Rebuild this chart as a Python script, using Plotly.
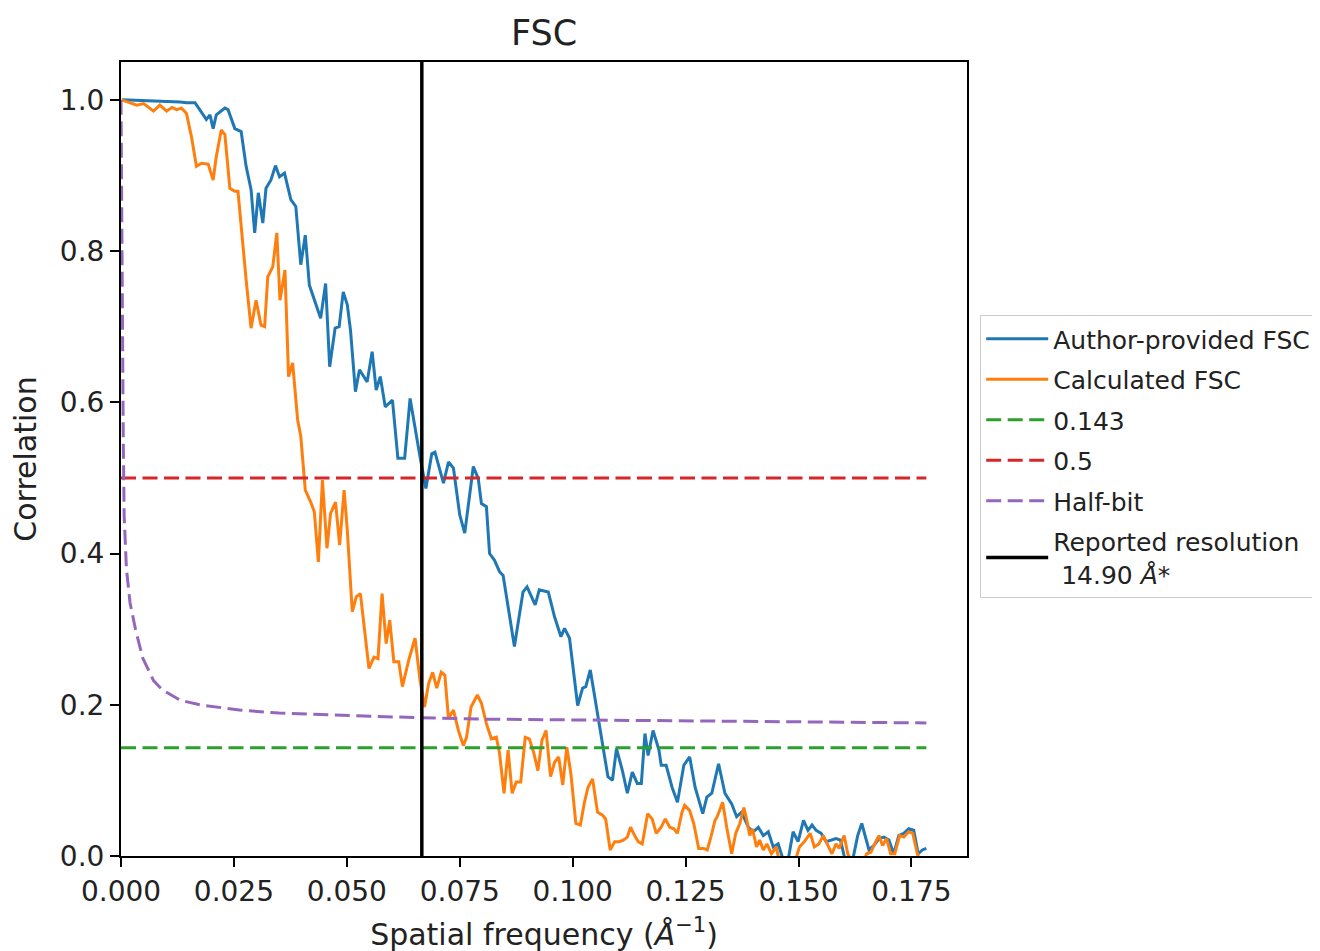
import plotly.graph_objects as go

# ---- data ----
author_x = [0.0002, 0.0050, 0.0101, 0.0131, 0.0145, 0.0164, 0.0189, 0.0197, 0.0204, 0.0211,
            0.0230, 0.0237, 0.0252, 0.0266, 0.0277, 0.0288, 0.0296, 0.0304, 0.0314, 0.0321,
            0.0332, 0.0342, 0.0351, 0.0362, 0.0376, 0.0387, 0.0398, 0.0408, 0.0417, 0.0428,
            0.0442, 0.0453, 0.0462, 0.0474, 0.0483, 0.0492, 0.0501, 0.0508, 0.0519, 0.0528,
            0.0545, 0.0556, 0.0565, 0.0574, 0.0585, 0.0601, 0.0613, 0.0628, 0.0640, 0.0662,
            0.0675, 0.0688, 0.0695, 0.0714, 0.0725, 0.0736, 0.0750, 0.0761, 0.0780, 0.0791,
            0.0798, 0.0809, 0.0816, 0.0827, 0.0838, 0.0846, 0.0857, 0.0871, 0.0890, 0.0899,
            0.0917, 0.0926, 0.0946, 0.0960, 0.0974, 0.0982, 0.0993, 0.1000, 0.1011, 0.1022,
            0.1029, 0.1039, 0.1049, 0.1059, 0.1068, 0.1078, 0.1088, 0.1097, 0.1110, 0.1121,
            0.1132, 0.1143, 0.1152, 0.1160, 0.1167, 0.1178, 0.1191, 0.1196, 0.1207, 0.1220,
            0.1232, 0.1246, 0.1259, 0.1271, 0.1288, 0.1297, 0.1308, 0.1323, 0.1337, 0.1352,
            0.1363, 0.1374, 0.1389, 0.1400, 0.1411, 0.1422, 0.1433, 0.1444, 0.1455, 0.1466,
            0.1477, 0.1488, 0.1499, 0.1511, 0.1521, 0.1530, 0.1539, 0.1550, 0.1561, 0.1572,
            0.1583, 0.1593, 0.1603, 0.1620, 0.1631, 0.1640, 0.1649, 0.1656, 0.1667, 0.1678,
            0.1689, 0.1700, 0.1711, 0.1722, 0.1733, 0.1744, 0.1755, 0.1765, 0.1774, 0.1783]
author_y = [1.000, 0.999, 0.998, 0.997, 0.996, 0.996, 0.974, 0.980, 0.962, 0.980,
            0.989, 0.987, 0.962, 0.958, 0.912, 0.881, 0.824, 0.877, 0.837, 0.883,
            0.894, 0.913, 0.898, 0.903, 0.868, 0.859, 0.782, 0.821, 0.755, 0.735,
            0.711, 0.757, 0.647, 0.698, 0.700, 0.746, 0.729, 0.696, 0.614, 0.643,
            0.627, 0.667, 0.616, 0.634, 0.594, 0.603, 0.526, 0.526, 0.605, 0.528,
            0.486, 0.532, 0.534, 0.493, 0.521, 0.513, 0.451, 0.427, 0.515, 0.499,
            0.466, 0.462, 0.400, 0.391, 0.376, 0.371, 0.329, 0.277, 0.349, 0.356,
            0.332, 0.352, 0.349, 0.316, 0.290, 0.301, 0.288, 0.250, 0.199, 0.222,
            0.224, 0.246, 0.210, 0.171, 0.136, 0.105, 0.100, 0.142, 0.113, 0.083,
            0.111, 0.096, 0.096, 0.162, 0.133, 0.166, 0.140, 0.120, 0.120, 0.091,
            0.071, 0.120, 0.131, 0.091, 0.056, 0.078, 0.083, 0.122, 0.083, 0.069,
            0.052, 0.058, 0.038, 0.032, 0.038, 0.027, 0.032, 0.012, 0.016, -0.005,
            -0.005, 0.032, 0.019, 0.047, 0.034, 0.041, 0.034, 0.030, 0.019, 0.021,
            0.023, 0.021, -0.005, -0.005, 0.027, 0.043, 0.023, 0.008, 0.014, 0.023,
            0.025, 0.021, 0.003, 0.027, 0.030, 0.036, 0.034, 0.003, 0.008, 0.010]

calc_x = [0.0002, 0.0035, 0.0050, 0.0072, 0.0086, 0.0101, 0.0113, 0.0123, 0.0134, 0.0145,
          0.0156, 0.0167, 0.0178, 0.0193, 0.0204, 0.0211, 0.0222, 0.0230, 0.0241, 0.0252,
          0.0259, 0.0270, 0.0277, 0.0288, 0.0299, 0.0310, 0.0318, 0.0325, 0.0336, 0.0345,
          0.0352, 0.0363, 0.0371, 0.0380, 0.0391, 0.0398, 0.0408, 0.0420, 0.0428, 0.0437,
          0.0446, 0.0456, 0.0464, 0.0475, 0.0484, 0.0494, 0.0501, 0.0512, 0.0521, 0.0530,
          0.0540, 0.0549, 0.0560, 0.0569, 0.0578, 0.0587, 0.0595, 0.0604, 0.0615, 0.0623,
          0.0637, 0.0651, 0.0662, 0.0672, 0.0681, 0.0690, 0.0699, 0.0709, 0.0717, 0.0725,
          0.0736, 0.0747, 0.0758, 0.0765, 0.0775, 0.0789, 0.0798, 0.0809, 0.0820, 0.0831,
          0.0838, 0.0848, 0.0857, 0.0866, 0.0875, 0.0885, 0.0895, 0.0904, 0.0914, 0.0923,
          0.0932, 0.0941, 0.0951, 0.0960, 0.0969, 0.0978, 0.0987, 0.0996, 0.1007, 0.1017,
          0.1026, 0.1034, 0.1044, 0.1055, 0.1066, 0.1073, 0.1083, 0.1093, 0.1103, 0.1112,
          0.1121, 0.1128, 0.1139, 0.1145, 0.1154, 0.1166, 0.1176, 0.1185, 0.1196, 0.1205,
          0.1215, 0.1224, 0.1232, 0.1242, 0.1248, 0.1259, 0.1268, 0.1279, 0.1290, 0.1298,
          0.1306, 0.1315, 0.1320, 0.1332, 0.1341, 0.1352, 0.1361, 0.1370, 0.1379, 0.1385,
          0.1392, 0.1398, 0.1407, 0.1414, 0.1422, 0.1430, 0.1440, 0.1451, 0.1458, 0.1470,
          0.1480, 0.1491, 0.1502, 0.1513, 0.1526, 0.1535, 0.1545, 0.1555, 0.1565, 0.1574,
          0.1583, 0.1590, 0.1601, 0.1609, 0.1620, 0.1631, 0.1642, 0.1651, 0.1660, 0.1671,
          0.1678, 0.1686, 0.1695, 0.1704, 0.1713, 0.1724, 0.1733, 0.1744, 0.1753, 0.1763,
          0.1768]
calc_y = [1.000, 0.993, 0.995, 0.985, 0.993, 0.985, 0.990, 0.987, 0.989, 0.982,
          0.951, 0.912, 0.916, 0.915, 0.894, 0.925, 0.960, 0.954, 0.883, 0.879,
          0.879, 0.806, 0.762, 0.698, 0.735, 0.702, 0.700, 0.766, 0.779, 0.824,
          0.735, 0.775, 0.634, 0.652, 0.577, 0.555, 0.484, 0.468, 0.455, 0.389,
          0.497, 0.407, 0.453, 0.468, 0.411, 0.484, 0.431, 0.323, 0.343, 0.347,
          0.294, 0.248, 0.263, 0.261, 0.347, 0.281, 0.312, 0.257, 0.257, 0.224,
          0.259, 0.288, 0.233, 0.197, 0.228, 0.243, 0.222, 0.243, 0.239, 0.182,
          0.193, 0.166, 0.146, 0.157, 0.197, 0.213, 0.202, 0.175, 0.155, 0.157,
          0.136, 0.083, 0.140, 0.083, 0.098, 0.098, 0.157, 0.155, 0.136, 0.113,
          0.153, 0.166, 0.105, 0.124, 0.131, 0.094, 0.144, 0.109, 0.043, 0.041,
          0.071, 0.091, 0.102, 0.058, 0.054, 0.049, 0.008, 0.019, 0.019, 0.021,
          0.025, 0.038, 0.025, 0.019, 0.016, 0.056, 0.049, 0.030, 0.038, 0.049,
          0.038, 0.036, 0.030, 0.058, 0.067, 0.060, 0.043, 0.010, 0.010, 0.008,
          0.025, 0.047, 0.052, 0.071, 0.038, 0.003, 0.030, 0.043, 0.064, 0.049,
          0.027, 0.036, 0.012, 0.021, 0.008, 0.016, 0.003, 0.012, -0.010, -0.010,
          -0.010, -0.010, 0.012, 0.019, 0.030, 0.012, 0.016, 0.027, 0.014, 0.003,
          0.016, 0.010, 0.027, 0.003, -0.010, -0.010, -0.010, 0.003, 0.005, 0.019,
          0.027, 0.014, 0.023, 0.003, 0.003, 0.027, 0.025, 0.032, 0.030, 0.003,
          -0.005]

halfbit_x = [0.0000, 0.0002, 0.0005, 0.0007, 0.0012, 0.0020, 0.0032, 0.0048, 0.0072, 0.0091,
             0.0131, 0.0174, 0.0262, 0.0350, 0.0500, 0.0650, 0.0800, 0.1000, 0.1200, 0.1400,
             0.1600, 0.1783]
halfbit_y = [1.000, 0.750, 0.550, 0.450, 0.380, 0.335, 0.300, 0.262, 0.232, 0.220,
             0.206, 0.200, 0.193, 0.189, 0.186, 0.183, 0.181, 0.180, 0.178, 0.177,
             0.1765, 0.176]

line_x = [0.0, 0.1783]
thr_0143 = [0.143, 0.143]
thr_05 = [0.5, 0.5]
res_x = [0.0666, 0.0666]
res_y = [0.0, 1.05]

x_ticks = [0.0, 0.025, 0.05, 0.075, 0.1, 0.125, 0.15, 0.175]
y_ticks = [0.0, 0.2, 0.4, 0.6, 0.8, 1.0]

FONT = "DejaVu Sans"
DASH = "15px,6.5px"
TXT = "#222222"

fig = go.Figure()
fig.add_trace(go.Scatter(x=author_x, y=author_y, mode="lines", name="Author-provided FSC",
                         line=dict(color="#1f77b4", width=3), legendgroup="a"))
fig.add_trace(go.Scatter(x=calc_x, y=calc_y, mode="lines", name="Calculated FSC",
                         line=dict(color="#ff7f0e", width=3), legendgroup="b"))
fig.add_trace(go.Scatter(x=line_x, y=thr_0143, mode="lines", name="0.143",
                         line=dict(color="#2ca02c", width=3, dash=DASH), legendgroup="c"))
fig.add_trace(go.Scatter(x=line_x, y=thr_05, mode="lines", name="0.5",
                         line=dict(color="#d62728", width=3, dash=DASH), legendgroup="d"))
fig.add_trace(go.Scatter(x=halfbit_x, y=halfbit_y, mode="lines", name="Half-bit",
                         line=dict(color="#9467bd", width=3, dash=DASH), legendgroup="e"))
fig.add_trace(go.Scatter(x=res_x, y=res_y, mode="lines",
                         name="Reported resolution<br> 14.90 <i>Å</i>*",
                         line=dict(color="black", width=3.5), legendgroup="f"))

fig.update_layout(
    width=1320, height=951,
    margin=dict(l=113, r=352, t=54, b=103),
    paper_bgcolor="white", plot_bgcolor="white",
    font=dict(family=FONT, size=25, color=TXT),
    title=dict(text="FSC", x=0.5, xref="paper", xanchor="center",
               y=1 - 25 / 951, yref="container", yanchor="middle",
               font=dict(family=FONT, size=35, color=TXT)),
    showlegend=True,
    legend=dict(x=1.0156, xanchor="left", y=0.503, yanchor="middle",
                bordercolor="#cccccc", borderwidth=1, bgcolor="white",
                font=dict(family=FONT, size=25, color=TXT),
                tracegroupgap=5, itemwidth=62),
)
fig.update_xaxes(range=[0, 0.1873], tickvals=x_ticks, tickformat=".3f",
                 ticks="outside", ticklen=9, tickwidth=2, tickcolor="black",
                 showline=True, linecolor="black", linewidth=2, mirror=True,
                 showgrid=False, zeroline=False,
                 tickfont=dict(family=FONT, size=28, color=TXT),
                 title=dict(text="Spatial frequency (<i>Å</i><sup>−1</sup>)", standoff=17,
                            font=dict(family=FONT, size=30, color=TXT)))
fig.update_yaxes(range=[0, 1.05], tickvals=y_ticks, tickformat=".1f",
                 ticks="outside", ticklen=9, tickwidth=2, tickcolor="black",
                 showline=True, linecolor="black", linewidth=2, mirror=True,
                 showgrid=False, zeroline=False,
                 tickfont=dict(family=FONT, size=28, color=TXT),
                 title=dict(text="Correlation", standoff=16,
                            font=dict(family=FONT, size=30, color=TXT)))

fig.write_html("out.html")
